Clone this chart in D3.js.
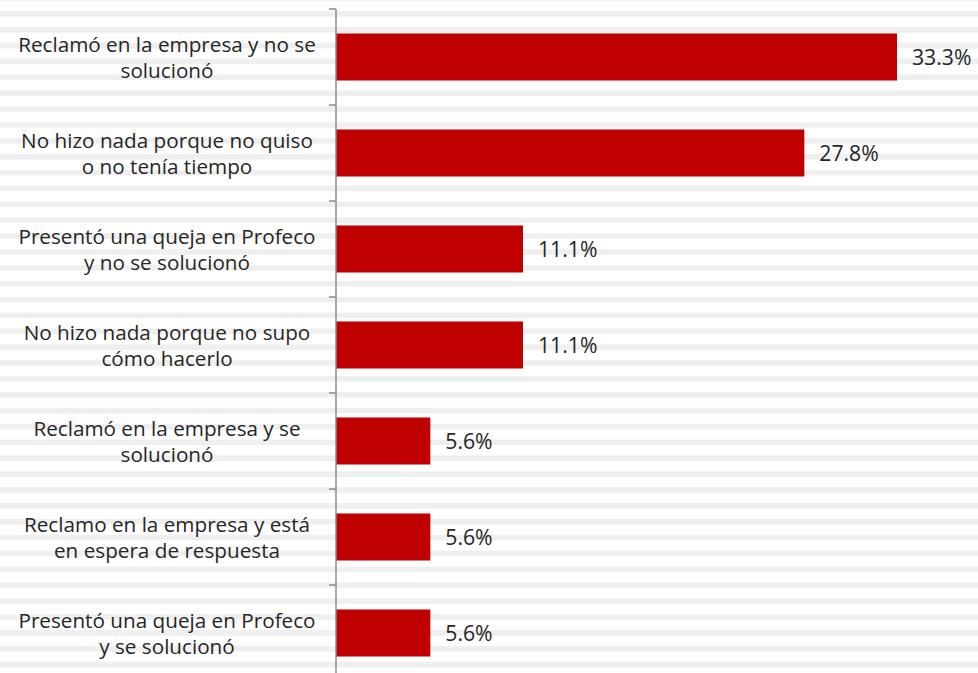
<!DOCTYPE html>
<html><head><meta charset="utf-8">
<script src="https://cdn.jsdelivr.net/npm/d3@7"></script>
<style>
html,body{margin:0;padding:0;background:#fff;overflow:hidden;}
svg{display:block;}
text{font-family:"Open Sans",sans-serif;}
</style></head>
<body>
<script>
const categories = [
  ["Reclamó en la empresa y no se", "solucionó"],
  ["No hizo nada porque no quiso", "o no tenía tiempo"],
  ["Presentó una queja en Profeco", "y no se solucionó"],
  ["No hizo nada porque no supo", "cómo hacerlo"],
  ["Reclamó en la empresa y se", "solucionó"],
  ["Reclamo en la empresa y está", "en espera de respuesta"],
  ["Presentó una queja en Profeco", "y se solucionó"]
];
const values = [33.3, 27.8, 11.1, 11.1, 5.6, 5.6, 5.6];
const valueLabels = ["33.3%", "27.8%", "11.1%", "11.1%", "5.6%", "5.6%", "5.6%"];

const W = 978, H = 673;
const svg = d3.select("body").append("svg").attr("width", W).attr("height", H);

// striped background
const stripeStart = -2, stripeStep = 15.87;
const stripes = d3.range(0, 44).map(i => stripeStart + i * stripeStep);
svg.selectAll("rect.stripe").data(stripes).enter().append("rect")
  .attr("x", 0).attr("width", W).attr("y", d => d - 2.8).attr("height", 5.6)
  .attr("fill", "#efefef");

const x0 = 336;
const x = d3.scaleLinear().domain([0, 33.3]).range([x0, 897]);
const idx = d3.range(categories.length);
const y = d3.scaleBand().domain(idx).range([9, 9 + 96 * 7]).paddingInner(0.51).paddingOuter(0.255);

svg.selectAll("rect.bar").data(values).enter().append("rect")
  .attr("x", x(0)).attr("y", (d, i) => y(i))
  .attr("width", d => x(d) - x(0)).attr("height", y.bandwidth())
  .attr("fill", "#c00000");

// axis
const yAxisScale = d3.scaleBand().domain(idx).range([9, 9 + 96 * 7]);
const ticks = d3.range(0, 8).map(i => 9 + 96 * i);
svg.append("line").attr("x1", x0).attr("x2", x0).attr("y1", 9).attr("y2", H)
  .attr("stroke", "#8c8c8c").attr("stroke-width", 1.5);
svg.selectAll("line.tick").data(ticks).enter().append("line")
  .attr("x1", x0 - 7).attr("x2", x0).attr("y1", d => d).attr("y2", d => d)
  .attr("stroke", "#8c8c8c").attr("stroke-width", 1.5);

// category labels
const lab = svg.selectAll("text.cat").data(categories).enter().append("text")
  .attr("text-anchor", "middle").attr("fill", "#262626").attr("font-size", 20.7);
lab.each(function(lines, i) {
  const cy = yAxisScale(i) + yAxisScale.bandwidth() / 2;
  d3.select(this).selectAll("tspan").data(lines).enter().append("tspan")
    .attr("x", 167).attr("y", (d, j) => cy + (j - 0.5) * 26 + 7.5).text(d => d);
});

// value labels
svg.selectAll("text.val").data(values).enter().append("text")
  .attr("x", d => x(d) + 15).attr("y", (d, i) => y(i) + y.bandwidth() / 2 + 8)
  .attr("fill", "#262626").attr("font-size", 21.2)
  .text((d, i) => valueLabels[i]);
</script>
</body></html>
